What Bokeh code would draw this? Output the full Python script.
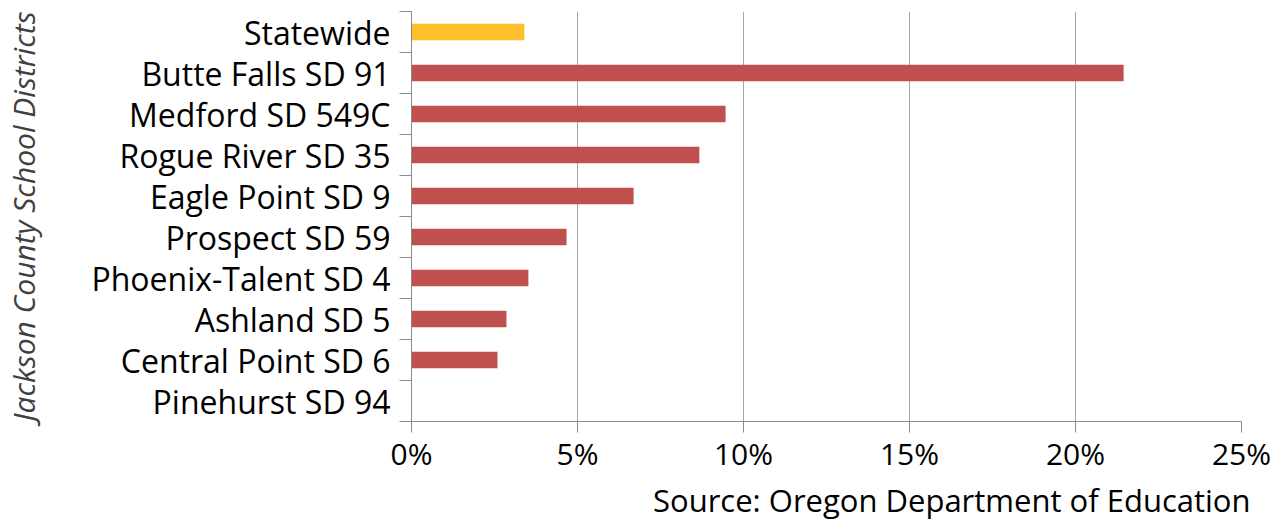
from bokeh.plotting import figure
from bokeh.models import Range1d, FixedTicker, PrintfTickFormatter, Title, ColumnDataSource
from bokeh.embed import file_html
from bokeh.resources import INLINE

# ---- data ----
districts = [
    "Statewide",
    "Butte Falls SD 91",
    "Medford SD 549C",
    "Rogue River SD 35",
    "Eagle Point SD 9",
    "Prospect SD 59",
    "Phoenix-Talent SD 4",
    "Ashland SD 5",
    "Central Point SD 6",
    "Pinehurst SD 94",
]
rates = [3.40, 21.45, 9.46, 8.67, 6.69, 4.67, 3.52, 2.86, 2.59, 0.0]
x_ticks = [0, 5, 10, 15, 20, 25]
source_note = "Source: Oregon Department of Education"

FONT = "Open Sans"
STATE_COLOR = "#FEBF2B"
DIST_COLOR = "#C0504D"
AXIS_GRAY = "#8c8c8c"
GRID_GRAY = "#a6a6a6"

n = len(districts)
pos = [i + 0.5 for i in range(n)]
colors = [STATE_COLOR if d == "Statewide" else DIST_COLOR for d in districts]
src = ColumnDataSource(dict(y=pos, right=rates, name=districts, color=colors))

p = figure(
    frame_width=830, frame_height=410,
    x_range=Range1d(0, 25), y_range=Range1d(n, 0),
    output_backend="svg", toolbar_location=None,
    min_border_left=411, min_border_right=30, min_border_top=11, min_border_bottom=90,
)
p.outline_line_color = None
p.background_fill_color = "white"
p.border_fill_color = "white"

p.hbar(y="y", left=0, right="right", height=0.4, color="color", line_color=None, source=src)

# x axis
xa = p.xaxis[0]
xa.ticker = FixedTicker(ticks=x_ticks)
xa.formatter = PrintfTickFormatter(format="%d%%")
xa.axis_line_color = AXIS_GRAY
xa.major_tick_line_color = AXIS_GRAY
xa.major_tick_out = 11
xa.major_tick_in = 0
xa.minor_tick_line_color = None
xa.major_label_text_font = FONT
xa.major_label_text_font_size = "30px"
xa.major_label_text_line_height = 1.0
xa.major_label_text_color = "black"
xa.major_label_standoff = 0

p.xgrid.ticker = FixedTicker(ticks=x_ticks)
p.xgrid.grid_line_color = GRID_GRAY
p.xgrid.grid_line_width = 1
p.ygrid.grid_line_color = None

# y axis
ya = p.yaxis[0]
ya.ticker = FixedTicker(ticks=pos, minor_ticks=list(range(n + 1)))
ya.major_label_overrides = {pv: d for pv, d in zip(pos, districts)}
ya.axis_line_color = AXIS_GRAY
ya.major_tick_out = 0
ya.major_tick_in = 0
ya.major_tick_line_color = None
ya.minor_tick_out = 12
ya.minor_tick_in = 0
ya.minor_tick_line_color = AXIS_GRAY
ya.major_label_text_font = FONT
ya.major_label_text_font_size = "32px"
ya.major_label_text_color = "black"
ya.major_label_standoff = 9
ya.axis_label = "Jackson County School Districts"
ya.axis_label_text_font = FONT
ya.axis_label_text_font_style = "italic"
ya.axis_label_text_font_size = "30px"
ya.axis_label_text_color = "#404040"
ya.axis_label_standoff = 44

src_title = Title(
    text=source_note, align="right",
    text_font=FONT, text_font_size="31px", text_font_style="normal",
    text_color="black", offset=-9, standoff=0, text_line_height=1.0,
)
p.add_layout(src_title, "below")

open("out.html", "w").write(file_html(p, INLINE))
